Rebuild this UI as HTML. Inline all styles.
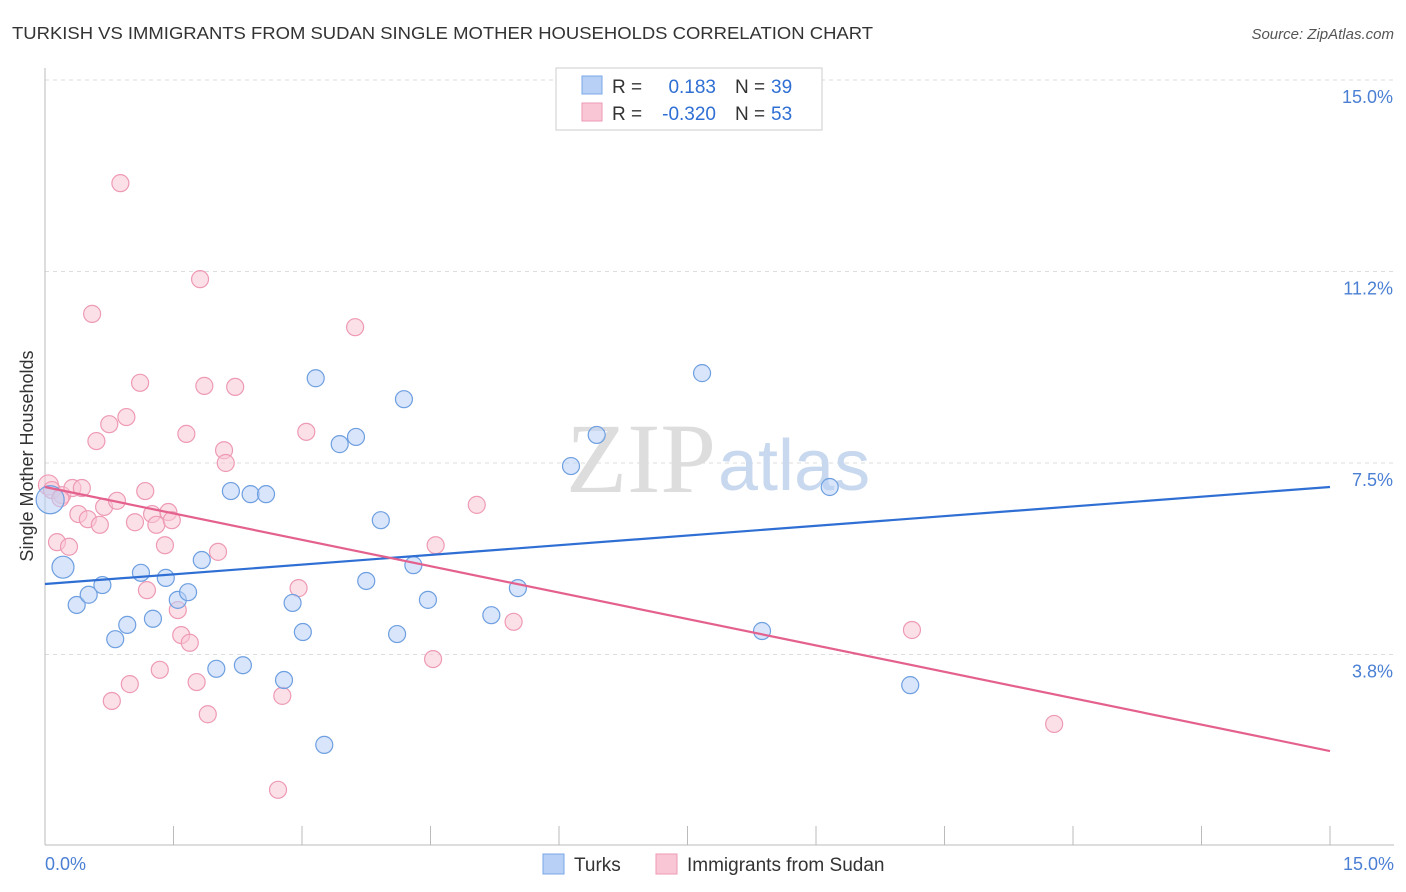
<!DOCTYPE html>
<html><head><meta charset="utf-8"><style>
body{margin:0;background:#fff;font-family:"Liberation Sans",sans-serif}
svg{display:block}
</style></head><body>
<svg id="chart" width="1406" height="892">
<text x="12" y="39" font-size="17.5" fill="#333" textLength="861" lengthAdjust="spacingAndGlyphs">TURKISH VS IMMIGRANTS FROM SUDAN SINGLE MOTHER HOUSEHOLDS CORRELATION CHART</text>
<text x="1394" y="39" font-size="15" fill="#555" font-style="italic" text-anchor="end">Source: ZipAtlas.com</text>
<g id="grid"></g>
<text x="716" y="492" font-size="100" fill="#ddd" text-anchor="end" font-family="Liberation Serif,serif">ZIP</text>
<text x="718" y="490" font-size="72" fill="#c8d8ee">atlas</text>
<g id="pts"></g>
<g id="lines"></g>
<text transform="translate(33,456) rotate(-90)" font-size="18" fill="#333" text-anchor="middle">Single Mother Households</text>
<text x="45" y="870" font-size="18" fill="#4a7fd4">0.0%</text>
<text x="1394" y="870" font-size="18" fill="#4a7fd4" text-anchor="end">15.0%</text>
<g>
<rect x="556" y="68" width="266" height="62" fill="#fff" stroke="#ccc"/>
<rect x="582" y="76" width="20" height="18" fill="#b8d0f5" stroke="#7aa7e8"/>
<rect x="582" y="103" width="20" height="18" fill="#f9c6d5" stroke="#ee9ab4"/>
<text x="612" y="93" font-size="19" fill="#333">R =</text>
<text x="716" y="93" font-size="19" fill="#2f6fd4" text-anchor="end">0.183</text>
<text x="735" y="93" font-size="19" fill="#333">N =</text>
<text x="771" y="93" font-size="19" fill="#2f6fd4">39</text>
<text x="612" y="120" font-size="19" fill="#333">R =</text>
<text x="716" y="120" font-size="19" fill="#2f6fd4" text-anchor="end">-0.320</text>
<text x="735" y="120" font-size="19" fill="#333">N =</text>
<text x="771" y="120" font-size="19" fill="#2f6fd4">53</text>
</g>
<g>
<rect x="543" y="854" width="21" height="20" fill="#b8d0f5" stroke="#7aa7e8"/>
<text x="574" y="871" font-size="19" fill="#333">Turks</text>
<rect x="656" y="854" width="21" height="20" fill="#f9c6d5" stroke="#ee9ab4"/>
<text x="687" y="871" font-size="19" fill="#333">Immigrants from Sudan</text>
</g>
</svg>
<script>
const yTicks=[15,11.25,7.5,3.75];
const yTickLabels=["15.0%","11.2%","7.5%","3.8%"];
const xTicks=[0,1.5,3,4.5,6,7.5,9,10.5,12,13.5,15];
const turksX=[0.06,0.21,0.37,0.51,0.67,0.82,0.96,1.12,1.26,1.41,1.55,1.67,1.83,2.00,2.17,2.31,2.40,2.58,2.79,2.89,3.01,3.16,3.26,3.44,3.63,3.75,3.92,4.11,4.19,4.30,4.47,5.21,5.52,6.14,6.44,7.67,8.37,9.16,10.10];
const turksY=[6.78,5.46,4.72,4.92,5.11,4.05,4.33,5.35,4.45,5.25,4.82,4.97,5.60,3.47,6.95,3.54,6.89,6.89,3.25,4.76,4.19,9.16,1.98,7.87,8.01,5.19,6.38,4.15,8.75,5.50,4.82,4.52,5.05,7.44,8.05,9.26,4.21,7.03,3.15];
const sudanX=[0.04,0.08,0.14,0.20,0.28,0.32,0.39,0.43,0.50,0.55,0.60,0.64,0.69,0.75,0.84,0.88,0.95,0.78,0.99,1.05,1.11,1.17,1.19,1.25,1.30,1.34,1.40,1.44,1.48,1.55,1.59,1.65,1.69,1.77,1.81,1.86,1.90,2.02,2.09,2.11,2.22,2.77,2.72,2.96,3.05,3.62,4.53,4.56,5.04,5.47,10.12,11.78,0.18];
const sudanY=[7.07,6.97,5.95,6.87,5.86,7.01,6.50,7.01,6.40,10.42,7.93,6.29,6.64,8.26,6.76,12.98,8.40,2.84,3.17,6.34,9.07,6.95,5.01,6.50,6.29,3.45,5.89,6.54,6.38,4.62,4.13,8.07,3.98,3.21,11.10,9.01,2.58,5.76,7.75,7.50,8.99,2.94,1.10,5.05,8.11,10.16,3.66,5.89,6.68,4.39,4.23,2.39,6.81];
const turksTrend=[5.13,7.03];
const sudanTrend=[7.03,1.86];
const X0=45,X1=1330,Y0=846,Y1=80;
const sx=v=>X0+v/15*(X1-X0);
const sy=v=>Y0-v/15*(Y0-Y1);
const NS="http://www.w3.org/2000/svg";
function mk(t,a,p){const e=document.createElementNS(NS,t);for(const k in a)e.setAttribute(k,a[k]);p.appendChild(e);return e;}
const g=document.getElementById('grid');
yTicks.forEach((v,i)=>{
 const l=mk('line',{x1:X0,x2:1394,y1:sy(v),y2:sy(v),stroke:'#ddd','stroke-dasharray':'4,4'},g);
 
 
 const t=mk('text',{x:1393,y:sy(v)+23,'font-size':18,fill:'#4a7fd4','text-anchor':'end'},g);
 t.textContent=yTickLabels[i];
 
 
});
const ax=mk('line',{x1:X0,x2:1394,y1:845,y2:845,stroke:'#bbb'},g);


const ay=mk('line',{x1:X0,x2:X0,y1:68,y2:845,stroke:'#bbb'},g);


xTicks.forEach(v=>{
 const l=mk('line',{x1:sx(v),x2:sx(v),y1:826,y2:845,stroke:'#bbb'},g);
 
 
});
const p=document.getElementById('pts');
function dots(xs,ys,fill,stroke,name){
 xs.forEach((x,i)=>{
  const r=(i===0)?(name==='turks-point'?14:10):8.5;
  const c=mk('circle',{cx:sx(x),cy:sy(ys[i]),r:(name==='turks-point'&&i===1)?11:r,fill:fill,stroke:stroke,'stroke-width':1.2,'fill-opacity':0.55},p);
  
  
 });
}
dots(sudanX,sudanY,'#f9c6d5','#ee9ab4','sudan-point');
dots(turksX,turksY,'#b8d0f5','#6e9fe0','turks-point');
const L=document.getElementById('lines');
const tl=mk('line',{x1:sx(0),y1:sy(turksTrend[0]),x2:sx(15),y2:sy(turksTrend[1]),stroke:'#2f6fd4','stroke-width':2.2},L);


const sl=mk('line',{x1:sx(0),y1:sy(sudanTrend[0]),x2:sx(15),y2:sy(sudanTrend[1]),stroke:'#e4618e','stroke-width':2.2},L);


</script>
</body></html>
